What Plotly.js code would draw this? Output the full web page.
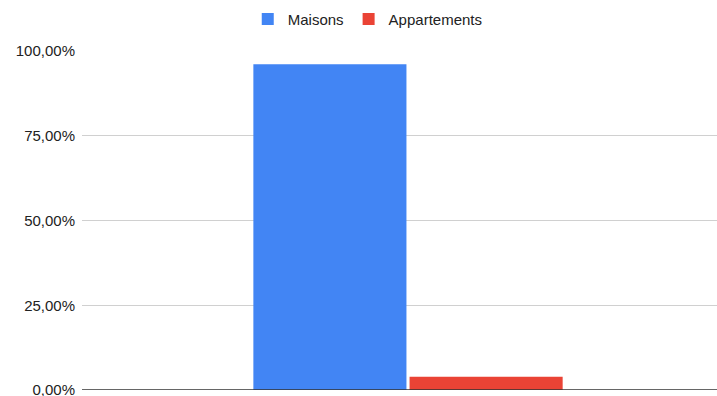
<!DOCTYPE html>
<html><head><meta charset="utf-8">
<script src="https://cdn.plot.ly/plotly-3.0.1.min.js"></script>
<style>body{margin:0;background:#fff}#c{width:717px;height:396px}</style>
</head><body><div id="c"></div>
<script>
const categories = [""];
const maisons = [0.961];
const appartements = [0.039];
const yTicks = [0, 0.25, 0.5, 0.75, 1];

const data = [
  {type:'bar', name:'Maisons', x:categories, y:maisons, marker:{color:'#4285f4'}, hoverinfo:'y'},
  {type:'bar', name:'Appartements', x:categories, y:appartements, marker:{color:'#ea4335'}, hoverinfo:'y'}
];
const layout = {
  width:717, height:396,
  margin:{l:82, r:0, t:51, b:6},
  separators:', ',
  barmode:'group', bargap:0.508, bargroupgap:0.02,
  font:{family:'Liberation Sans, Arial, sans-serif', size:15, color:'#222'},
  paper_bgcolor:'#fff', plot_bgcolor:'#fff',
  showlegend:true,
  legend:{orientation:'h', x:0.45, xanchor:'center', y:1.045, yanchor:'bottom', yref:'paper', font:{size:15, color:'#222'}, itemwidth:30},
  xaxis:{type:'category', range:[-0.5134,0.4866], showticklabels:false, showgrid:false, zeroline:false, showline:false, fixedrange:true},
  yaxis:{range:[0,1], tickvals:yTicks, tickformat:'.2%', gridcolor:'#d0d0d0', zeroline:false,
         showline:false, ticks:'', ticklen:0, ticklabelstandoff:6, ticklabeloverflow:'allow', automargin:false, fixedrange:true},
  shapes:[{type:'line', xref:'paper', yref:'y', x0:0, x1:1, y0:0, y1:0, line:{color:'#333', width:1.3}}]
};
Plotly.newPlot('c', data, layout, {staticPlot:true});
</script></body></html>
